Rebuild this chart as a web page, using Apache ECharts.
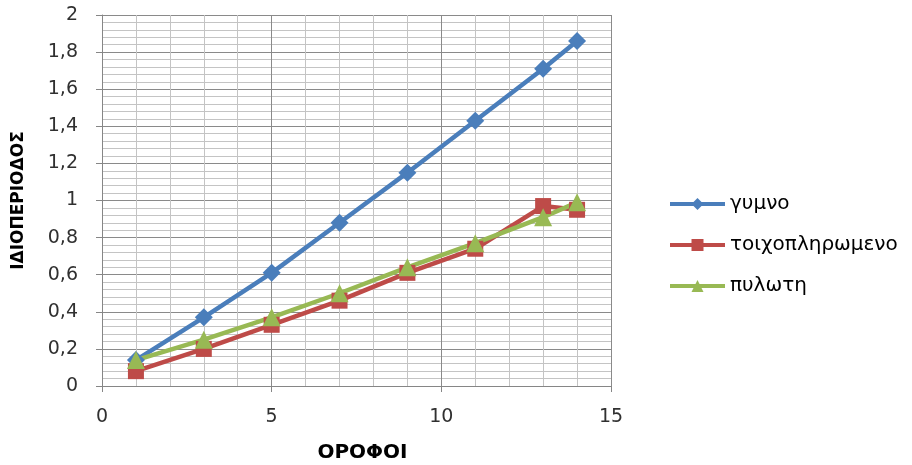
<!DOCTYPE html>
<html>
<head>
<meta charset="utf-8">
<script src="https://cdn.jsdelivr.net/npm/echarts@6/dist/echarts.min.js"></script>
<style>html,body{margin:0;padding:0;background:#fff}#c{width:912px;height:465px}</style>
</head>
<body>
<div id="c"></div>
<script>
const floors = [1, 3, 5, 7, 9, 11, 13, 14];
const gymno = [0.14, 0.37, 0.61, 0.88, 1.15, 1.43, 1.71, 1.86];
const toixo = [0.08, 0.20, 0.33, 0.46, 0.61, 0.74, 0.97, 0.95];
const pyloti = [0.14, 0.25, 0.37, 0.50, 0.64, 0.77, 0.91, 0.99];
const seriesNames = ['γυμνο', 'τοιχοπληρωμενο', 'πυλωτη'];
const xName = 'ΟΡΟΦΟΙ';
const yName = 'ΙΔΙΟΠΕΡΙΟΔΟΣ';

const pairs = arr => floors.map((f, i) => [f, arr[i]]);
const font = 'DejaVu Sans';
const chart = echarts.init(document.getElementById('c'));
const mk = (name, data, color, symbol, size) => ({
  name, type: 'line', data: pairs(data), symbol, symbolSize: size,
  lineStyle: { color, width: 4.5 }, itemStyle: { color }, z: 3
});
chart.setOption({
  animation: false,
  textStyle: { fontFamily: font },
  grid: { left: 102, right: 301, top: 15, bottom: 79, outerBoundsMode: 'none', containLabel: false },
  xAxis: {
    type: 'value', min: 0, max: 15, interval: 5,
    name: xName, nameLocation: 'middle', nameGap: 57,
    nameTextStyle: { fontSize: 20, fontWeight: 'bold', color: '#000', fontFamily: font, padding: [0, 0, 0, 12] },
    axisLine: { show: true, lineStyle: { color: '#868686' } },
    axisTick: { show: true, length: 6, lineStyle: { color: '#868686' } },
    axisLabel: { fontSize: 19, color: '#303030', margin: 22 },
    splitLine: { show: true, lineStyle: { color: '#8a8a8a', width: 1 } },
    minorTick: { show: false, splitNumber: 5 },
    minorSplitLine: { show: true, lineStyle: { color: '#c4c4c4', width: 1 } }
  },
  yAxis: {
    type: 'value', min: 0, max: 2, interval: 0.2,
    name: yName, nameLocation: 'middle', nameGap: 75, nameRotate: 90,
    nameTextStyle: { fontSize: 17, fontWeight: 'bold', color: '#000', fontFamily: font },
    axisLine: { show: true, lineStyle: { color: '#868686' } },
    axisTick: { show: true, length: 6, lineStyle: { color: '#868686' } },
    axisLabel: { fontSize: 19, color: '#303030', margin: 24,
      formatter: v => String(Math.round(v * 10) / 10).replace('.', ',') },
    splitLine: { show: true, lineStyle: { color: '#8a8a8a', width: 1 } },
    minorTick: { show: false, splitNumber: 5 },
    minorSplitLine: { show: true, lineStyle: { color: '#c4c4c4', width: 1 } }
  },
  legend: {
    orient: 'vertical', left: 663, top: 189, itemGap: 21,
    itemWidth: 55, itemHeight: 15,
    lineStyle: { width: 4 },
    textStyle: { fontSize: 20, color: '#000', fontFamily: font },
    data: seriesNames
  },
  series: [
    mk(seriesNames[0], gymno, '#4a7ebb', 'diamond', 18),
    mk(seriesNames[1], toixo, '#be4b48', 'rect', 16),
    mk(seriesNames[2], pyloti, '#98b954', 'triangle', 18)
  ]
});
</script>
</body>
</html>
